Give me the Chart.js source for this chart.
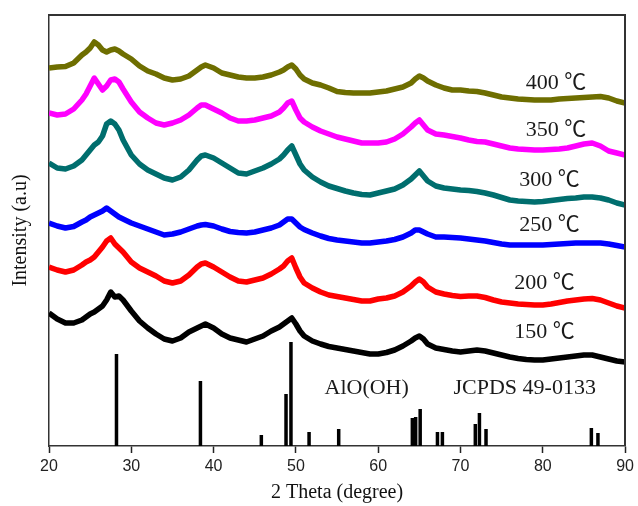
<!DOCTYPE html>
<html>
<head>
<meta charset="utf-8">
<script src="https://cdn.jsdelivr.net/npm/chart.js@4.4.1/dist/chart.umd.min.js"></script>
<style>
  html, body { margin: 0; padding: 0; background: #fff; }
  #box { position: relative; width: 638px; height: 506px; }
  #frame { position: absolute; box-sizing: border-box; border-top: 2px solid #333; border-right: 2px solid #333; pointer-events: none; }
</style>
</head>
<body>
<div id="box"><canvas id="xrd" width="638" height="506"></canvas><div id="frame"></div></div>
<script>
// 2 theta positions (degree) shared by all patterns
const theta = [20, 21, 22, 23, 24, 24.5, 25, 25.5, 26, 26.5, 27, 27.5, 28, 28.5, 29,
    30, 31, 32, 33, 34, 35, 36, 37, 38, 38.5, 39, 40, 41, 42, 43, 44, 45, 46, 47, 48,
    48.5, 49, 49.5, 50, 50.5, 51, 52, 53, 54, 55, 56, 57, 58, 59, 60, 61, 62, 63, 64,
    64.5, 65, 65.5, 66, 67, 68, 69, 70, 71, 72, 73, 74, 75, 76, 77, 78, 79, 80, 81, 82,
    83, 84, 85, 86, 87, 88, 89, 90];

// stacked intensities (a.u.)
const int150 = [133, 127, 123, 123, 126, 129, 132, 134, 137, 140, 146, 154, 149, 150, 146,
    135, 125, 118, 112, 107, 105, 108, 114, 118, 120, 122, 118, 112, 108, 106, 104, 107, 110, 115, 119,
    122, 125, 128, 122, 115, 110, 105, 102, 99.5, 98, 96.5, 95, 93.5, 92, 92, 93.5, 96, 100, 105,
    108, 110, 107, 102, 98, 96.5, 95, 94, 95, 96, 95, 93, 91, 89, 87.5, 86.5, 86, 86, 87, 88,
    89, 90, 91, 91, 89, 87, 85, 84];
const int200 = [179, 176, 174, 176, 181, 184, 186, 189, 194, 199, 205, 208, 202, 198, 194,
    184, 178, 174, 170, 165, 163, 165, 171, 179, 182, 183, 179, 174, 169, 165, 164, 166, 168, 172, 177,
    180, 185, 188, 178, 169, 163, 158, 154, 151, 149.5, 148, 146.5, 145, 145, 147, 148, 150, 154, 160,
    164, 167, 164, 159, 154, 152, 150.5, 149.5, 150, 150, 148.5, 146, 144, 143, 142, 141.5, 141, 141, 142, 143.5,
    145, 146, 147, 147.5, 146, 143, 140, 138];
const int250 = [223, 220, 218, 219.5, 224, 226, 229, 231, 233, 235, 238, 235, 232, 229, 227,
    223, 220, 217, 214, 211, 212, 214, 217, 220, 221, 221.5, 220, 217, 214.5, 213.5, 213, 214, 216, 218, 221,
    224, 227, 227, 223, 219, 216.5, 213, 210, 207.5, 206, 205, 204, 203, 203, 204, 205, 206.5, 209, 213,
    216, 216, 214, 212, 209, 209, 208.5, 208, 207, 206, 205, 203.5, 202, 201, 201, 201, 201, 201, 201.5, 202,
    202.5, 203, 203, 203, 203, 202, 200.5, 199];
const int300 = [283, 278, 277, 280, 286, 291, 296, 301, 304, 310, 322, 325, 322, 316, 306,
    291, 282, 276, 272, 268, 266, 269, 276, 286, 290, 291, 288, 283, 278, 273, 272, 275, 278, 282, 287,
    291, 296, 300, 291, 282, 276, 269, 264, 260, 257.5, 255, 253, 251.5, 251, 253, 255, 257, 261, 267,
    271, 275, 270, 265, 260, 258, 257, 256, 255.5, 254.5, 253, 251, 248.5, 246, 245, 244.5, 244, 244.5, 245.5, 246.5,
    247.5, 248, 249, 249, 248, 246, 243, 241];
const int350 = [333, 331, 332, 337, 346, 352, 360, 368, 362, 356, 360, 366, 367, 364, 357,
    344, 334, 328, 323, 321, 323, 326, 331, 338, 341, 341, 337, 333, 328, 325, 325, 326, 328, 330, 334,
    338, 343, 345, 336, 328, 324, 319, 315, 312, 309, 307, 305, 303, 303, 303, 304, 307, 312, 319,
    323, 326, 321, 316, 312, 311, 309.5, 308, 306, 304.5, 304, 302, 300, 298, 297, 296.5, 296, 296, 296.5, 297,
    298, 300, 302, 303, 300, 295, 293, 291];
const int400 = [378, 379, 379.5, 383, 391, 394, 398, 404, 401, 396, 394, 396, 397, 395, 392,
    387, 380, 375, 372, 368, 366, 367, 370, 376, 379, 381, 378, 373, 371, 369, 368, 368, 369, 371, 374,
    376, 379, 381, 377, 371, 367, 363, 361, 358, 354.5, 353.5, 353, 353, 353, 354, 355, 357, 359, 363,
    367, 370, 368, 365, 361, 358, 356, 356, 355, 354.5, 353, 351, 349, 348, 347, 346.5, 346, 346, 346, 347,
    347.5, 348, 348.5, 349, 349.5, 348, 345, 343];

// AlO(OH) reference lines, JCPDS 49-0133
const stickTheta = [28.2, 38.4, 45.8, 48.8, 49.4, 51.6, 55.2, 64.15, 64.55, 65.1, 67.2, 67.8, 71.8, 72.3, 73.1, 85.9, 86.7];
const stickHeight = [92, 65, 11, 52, 104, 14, 17, 28, 29, 37, 14, 14, 22, 33, 17, 18, 13];

const seriesNames = ['150 ℃', '200 ℃', '250 ℃', '300 ℃', '350 ℃', '400 ℃'];
const seriesValues = [int150, int200, int250, int300, int350, int400];
const seriesColors = ['#000000', '#ff0000', '#0000ff', '#006e6e', '#ff00ff', '#6e6e00'];

// curve labels in data coordinates [theta, intensity]
const curveLabelPos = [[80.2, 114], [80.2, 163], [80.8, 221], [80.8, 266], [81.6, 316], [81.6, 363]];
const refLabels = [
    { text: 'AlO(OH)', at: [58.6, 58] },
    { text: 'JCPDS 49-0133', at: [77.8, 58] }
];

const SERIF = "'Liberation Serif', 'Times New Roman', 'Noto Sans CJK SC', serif";
const AXIS_COLOR = '#333';

const stickData = [];
stickTheta.forEach((t, i) => {
    stickData.push({ x: t, y: 0 }, { x: t, y: stickHeight[i] }, { x: t, y: null });
});

const datasets = [{
    label: 'JCPDS 49-0133',
    data: stickData,
    borderColor: '#000',
    borderWidth: 3.5,
    borderCapStyle: 'butt',
    pointRadius: 0,
    spanGaps: false
}];
seriesValues.forEach((vals, i) => {
    datasets.push({
        label: seriesNames[i],
        data: theta.map((t, j) => ({ x: t, y: vals[j] })),
        borderColor: seriesColors[i],
        borderWidth: 5.5,
        pointRadius: 0,
        tension: 0,
        borderJoinStyle: 'round'
    });
});

// curve annotations, and the top / right edge of the box
const labelPlugin = {
    id: 'xrdLabels',
    afterDraw(chart) {
        const { ctx, chartArea: a, scales: { x, y } } = chart;
        ctx.save();
        ctx.fillStyle = '#1a1a1a';
        ctx.font = `22px ${SERIF}`;
        ctx.textAlign = 'center';
        ctx.textBaseline = 'middle';
        seriesNames.forEach((name, i) => {
            const [t, v] = curveLabelPos[i];
            ctx.fillText(name, x.getPixelForValue(t), y.getPixelForValue(v));
        });
        refLabels.forEach(l => {
            ctx.fillText(l.text, x.getPixelForValue(l.at[0]), y.getPixelForValue(l.at[1]));
        });
        ctx.restore();

        const frame = document.getElementById('frame');
        frame.style.left = (a.left - 1) + 'px';
        frame.style.top = (a.top - 1) + 'px';
        frame.style.width = (a.right - a.left + 2) + 'px';
        frame.style.height = (a.bottom - a.top + 1) + 'px';
    }
};

new Chart(document.getElementById('xrd'), {
    type: 'line',
    data: { datasets },
    options: {
        responsive: false,
        animation: false,
        layout: { padding: { top: 15, right: 10, left: 0, bottom: 0 } },
        plugins: { legend: { display: false }, tooltip: { enabled: false } },
        scales: {
            x: {
                type: 'linear',
                min: 20,
                max: 90,
                ticks: { stepSize: 10, color: '#222', padding: 4, maxRotation: 0,
                    font: { family: "'Liberation Sans', Arial, sans-serif", size: 16 } },
                grid: { drawOnChartArea: false, drawTicks: true, tickLength: 7, tickWidth: 1.5, tickColor: '#222' },
                border: { color: AXIS_COLOR, width: 1.5 },
                title: { display: true, text: '2 Theta (degree)', color: '#111',
                    font: { family: SERIF, size: 20 }, padding: { top: 0, bottom: 1 } },
                afterFit: s => { s.height = 60; }
            },
            y: {
                min: 0,
                max: 431,
                ticks: { display: false },
                grid: { display: false },
                border: { color: AXIS_COLOR, width: 1.5 },
                title: { display: true, text: 'Intensity (a.u)', color: '#111',
                    font: { family: SERIF, size: 20 }, padding: { top: 9, bottom: 0 } },
                afterFit: s => { s.width = 49; }
            }
        }
    },
    plugins: [labelPlugin]
});
</script>
</body>
</html>
